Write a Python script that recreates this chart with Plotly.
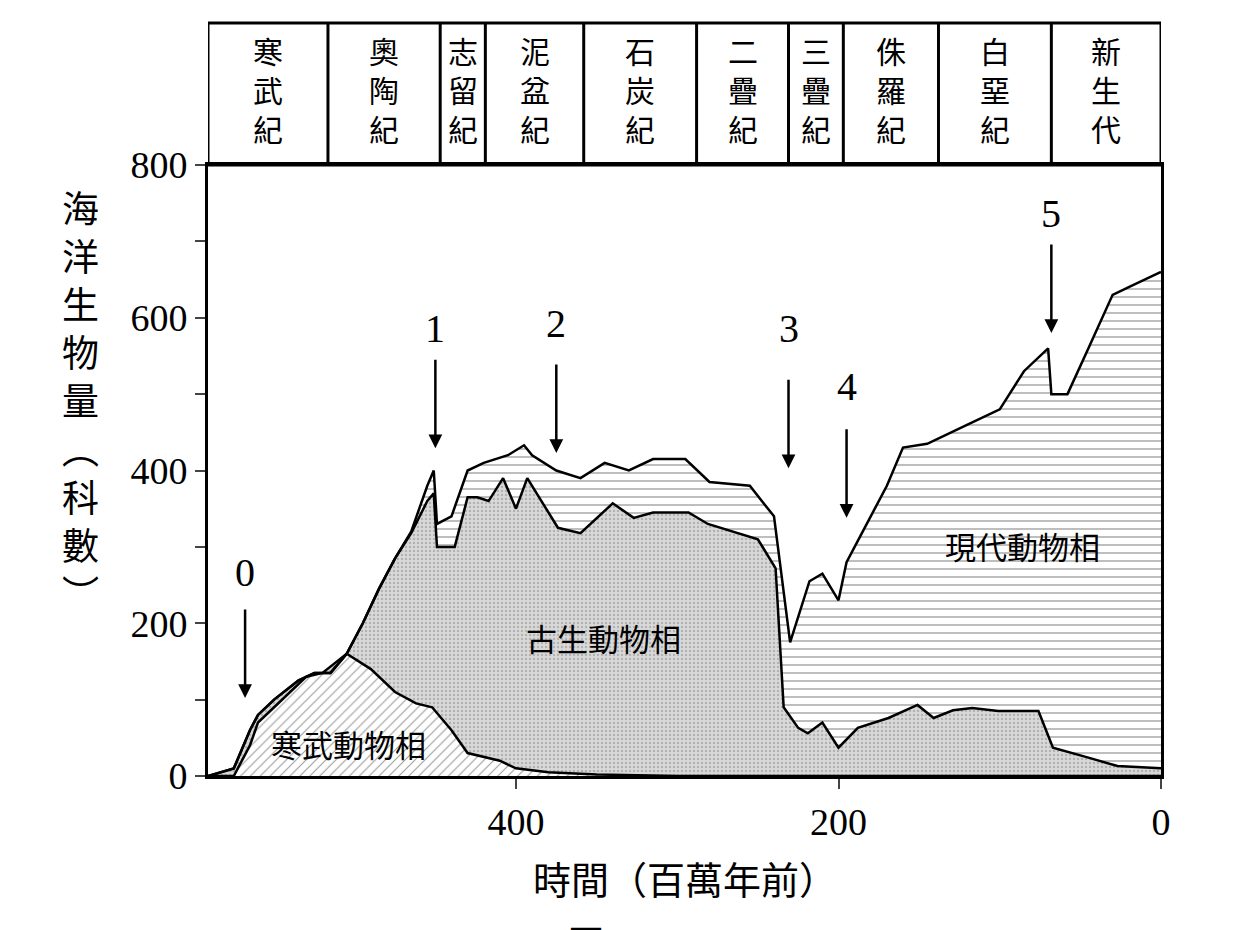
import plotly.graph_objects as go

# Cambrian fauna (bottom layer)
camb_x = [591, 575, 565, 560, 550, 540, 530, 520, 505, 490, 475, 462, 452, 440, 430, 410, 400, 380, 350, 300, 200, 100, 0]
camb_y = [0, 0, 40, 70, 90, 110, 130, 135, 160, 140, 110, 95, 90, 60, 30, 20, 10, 5, 2, 0, 0, 0, 0]

# Paleozoic fauna (cumulative top)
paleo_x = [591, 575, 565, 560, 550, 535, 525, 515, 505, 495, 485, 475, 465, 455, 451, 449, 438, 430, 424, 417, 408, 400,
           393, 374, 360, 340, 327, 315, 293, 281, 250, 239, 234, 225, 219, 210, 200, 188, 169, 151, 141, 129, 117, 101,
           76, 67, 45, 27, 0]
paleo_y = [0, 10, 60, 80, 100, 125, 135, 135, 160, 200, 245, 285, 318, 360, 370, 300, 300, 365, 365, 360, 390, 350,
           390, 325, 318, 357, 338, 345, 345, 330, 310, 272, 90, 63, 56, 70, 37, 63, 76, 93, 76, 86, 89, 85,
           85, 37, 24, 13, 10]

# total (modern fauna on top)
total_x = [591, 575, 565, 560, 550, 535, 525, 515, 505, 495, 485, 475, 465, 455, 451, 449, 440, 430, 420, 405, 395,
           390, 375, 360, 345, 330, 315, 295, 280, 255, 240, 230, 218, 210, 200, 195, 185, 170, 160, 145, 120, 100,
           85, 70, 68, 58, 45, 30, 20, 10, 0]
total_y = [0, 10, 60, 80, 100, 125, 135, 135, 160, 200, 245, 285, 320, 380, 400, 330, 340, 400, 410, 420, 433,
           420, 400, 390, 410, 400, 415, 415, 385, 380, 340, 175, 255, 265, 230, 280, 320, 380, 430, 435, 460, 480,
           530, 560, 500, 500, 560, 630, 640, 650, 660]

period_names = ["寒武紀", "奧陶紀", "志留紀", "泥盆紀", "石炭紀", "二疊紀", "三疊紀", "侏羅紀", "白堊紀", "新生代"]
period_bounds = [591, 516.6, 447, 419, 358, 288, 231, 197, 138, 68, 0]

arrow_x = [568, 450, 375, 231, 195, 68]
arrow_tip = [102, 429, 423, 403, 338, 580]
arrow_lab = [266, 586, 593, 586, 510, 737]

FONT = "Liberation Serif, Noto Sans CJK TC"
fig = go.Figure()
fig.add_trace(go.Scatter(x=camb_x, y=camb_y, mode="lines", line=dict(color="black", width=2.5),
                         fill="tozeroy", fillcolor="white",
                         fillpattern=dict(shape="/", fgcolor="#333", bgcolor="white", size=7, solidity=0.15)))
fig.add_trace(go.Scatter(x=paleo_x, y=paleo_y, mode="lines", line=dict(color="black", width=2.5),
                         fill="tonexty",
                         fillpattern=dict(shape=".", fgcolor="#8a8a8a", bgcolor="#d9d9d9", size=4, solidity=0.3)))
fig.add_trace(go.Scatter(x=total_x, y=total_y, mode="lines", line=dict(color="black", width=2.5),
                         fill="tonexty",
                         fillpattern=dict(shape="-", fgcolor="#222", bgcolor="white", size=8, solidity=0.15)))

shapes = [dict(type="rect", xref="x", yref="paper", x0=591, x1=0, y0=1, y1=1.2324,
               line=dict(color="black", width=3))]
annos = []
for i, name in enumerate(period_names):
    if i > 0:
        shapes.append(dict(type="line", xref="x", yref="paper", x0=period_bounds[i], x1=period_bounds[i],
                           y0=1, y1=1.2324, line=dict(color="black", width=3)))
    annos.append(dict(x=(period_bounds[i] + period_bounds[i + 1]) / 2, y=1.215, xref="x", yref="paper",
                      yanchor="top", showarrow=False, text="<br>".join(name),
                      font=dict(family=FONT, size=30, color="black")))

for i in range(6):
    annos.append(dict(x=arrow_x[i], y=arrow_tip[i], ax=0, ay=-90, showarrow=True, arrowhead=2, arrowsize=1.1,
                      arrowwidth=2.5, arrowcolor="black", text=""))
    annos.append(dict(x=arrow_x[i], y=arrow_lab[i], showarrow=False, text=str(i),
                      font=dict(family=FONT, size=40, color="black")))

for tx, x, y in [("古生動物相", 346, 178), ("寒武動物相", 504, 39), ("現代動物相", 86, 298)]:
    annos.append(dict(x=x, y=y, showarrow=False, text=tx, font=dict(family=FONT, size=31, color="black")))

annos.append(dict(x=-0.155, y=0.61, xref="paper", yref="paper", showarrow=False,
                  text="<br>".join("海洋生物量︵科數︶"), font=dict(family=FONT, size=37, color="black")))
annos.append(dict(x=0.5, y=-0.135, xref="paper", yref="paper", yanchor="top", showarrow=False,
                  text="時間（百萬年前）", font=dict(family=FONT, size=38, color="black")))
annos.append(dict(x=0.42, y=-0.24, xref="paper", yref="paper", yanchor="top", showarrow=False,
                  text="圖 11", font=dict(family=FONT, size=36, color="black")))

fig.update_layout(
    width=1240, height=930,
    margin=dict(l=200, r=87, t=157, b=162),
    plot_bgcolor="white", paper_bgcolor="white",
    showlegend=False,
    shapes=shapes, annotations=annos,
    font=dict(family=FONT, size=38, color="black"),
    xaxis=dict(range=[591, 0], tickvals=[400, 200, 0], ticks="outside", ticklen=10, tickwidth=2,
               automargin=False,
               showgrid=False, zeroline=False, showline=True, linewidth=3, linecolor="black", mirror=True),
    yaxis=dict(range=[0, 800], tickvals=list(range(0, 801, 100)),
               ticktext=["0", "", "200", "", "400", "", "600", "", "800"],
               ticks="outside", ticklen=10, tickwidth=2, automargin=False,
               showgrid=False, zeroline=False, showline=True, linewidth=3, linecolor="black", mirror=True),
)
fig.write_html("out.html")
